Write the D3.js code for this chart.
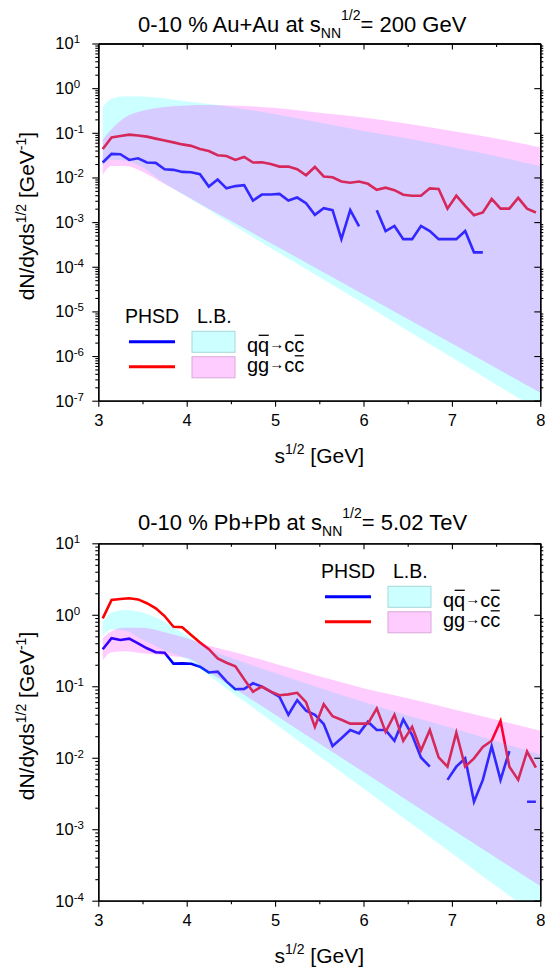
<!DOCTYPE html>
<html><head><meta charset="utf-8">
<script src="https://cdn.jsdelivr.net/npm/d3@7"></script>
<style>
body{margin:0;background:#fff;}
svg text{font-family:"Liberation Sans",Arial,sans-serif;fill:#000;}
</style></head><body>
<svg id="chart" width="545" height="969"></svg>
<script>
// ---------- data ----------
const sqrtS = [3.05,3.15,3.25,3.35,3.45,3.55,3.65,3.75,3.85,3.95,
               4.05,4.15,4.25,4.35,4.45,4.55,4.65,4.75,4.85,4.95,
               5.05,5.15,5.25,5.35,5.45,5.55,5.65,5.75,5.85,5.95,
               6.05,6.15,6.25,6.35,6.45,6.55,6.65,6.75,6.85,6.95,
               7.05,7.15,7.25,7.35,7.45,7.55,7.65,7.75,7.85,7.95];

// Au+Au 200 GeV : PHSD
const auBlue = [0.0216,0.0337,0.0331,0.0247,0.0269,0.0216,0.0212,0.0153,0.0148,0.0133,
                0.0131,0.0118,0.00625,0.0090,0.0057,0.0064,0.0067,0.00304,0.00414,0.00414,
                0.00429,0.00304,0.00355,0.00265,0.00145,0.00205,0.00185,0.000415,0.00185,0.00080,
                null,0.00185,0.00063,0.00082,0.000415,0.000415,0.00082,0.00063,0.000415,0.000415,
                0.000415,0.00063,0.00021,0.00021,null,null,null,null,null,null];
const auRed = [0.0435,0.079,0.085,0.091,0.087,0.082,0.074,0.067,0.061,0.055,
               0.051,0.0435,0.039,0.0314,0.0303,0.0247,0.0288,0.0216,0.0219,0.0201,
               0.0175,0.0175,0.0153,0.0112,0.0172,0.0105,0.0101,0.0081,0.0076,0.0081,
               0.0072,0.0053,0.0059,0.0052,0.0041,0.0039,0.0039,0.0057,0.0055,0.0020,
               0.0039,0.0023,0.00143,0.00164,0.0033,0.0020,0.0020,0.0035,0.0020,0.00164];

// Pb+Pb 5.02 TeV : PHSD
const pbBlue = [0.329,0.469,0.445,0.464,0.399,0.340,0.299,0.295,0.207,0.209,
                0.207,0.188,0.156,0.160,0.117,0.091,0.092,0.110,0.099,0.084,
                0.071,0.040,0.064,0.0455,0.040,0.0296,0.0146,0.0187,0.0244,0.0219,
                0.0319,0.0244,0.0244,0.0173,0.0344,0.0208,0.0101,0.0075,null,0.0049,
                0.0075,0.0098,0.00242,0.0049,0.0145,0.0049,0.0124,null,0.00242,0.00242];
const pbRed = [0.89,1.61,1.66,1.70,1.64,1.45,1.23,0.96,0.68,0.67,
               0.52,0.41,0.33,0.245,0.213,0.19,0.125,0.084,0.099,0.084,
               0.075,0.077,0.081,0.060,0.027,0.056,0.038,0.034,0.030,0.030,
               0.030,0.049,0.023,0.040,0.0173,0.027,0.0126,0.0244,0.0101,0.0075,
               0.0224,0.0075,0.0098,0.0142,0.0173,0.0327,0.0075,0.0049,0.0122,0.0073];

// L.B. bands
const bandS = [3.05,3.15,3.3,3.5,3.75,4.0,4.25,4.5,5.0,5.5,6.0,6.5,7.0,7.5,8.0];
const auQqUp = [0.38,0.58,0.66,0.65,0.59,0.50,0.44,0.38,0.26,0.17,0.11,0.075,0.048,0.030,0.018];
const auQqLo = [0.019,0.025,0.024,0.017,0.0074,3.7e-3,1.9e-3,9.3e-4,2.3e-4,5.9e-5,1.5e-5,3.7e-6,9.3e-7,2.3e-7,5.9e-8];
const auGgUp = [0.07,0.12,0.22,0.31,0.38,0.41,0.42,0.41,0.36,0.28,0.22,0.16,0.11,0.075,0.047];
const auGgLo = [0.0114,0.018,0.018,0.0135,0.0071,3.8e-3,2.0e-3,1.07e-3,3.0e-4,8.5e-5,2.4e-5,6.8e-6,1.9e-6,5.4e-7,1.5e-7];

const pbQqUp = [0.80,1.07,1.17,1.08,0.80,0.51,0.33,0.25,0.153,0.095,0.060,0.039,0.026,0.017,0.0111];
const pbQqLo = [0.50,0.62,0.60,0.45,0.32,0.24,0.142,0.084,0.030,0.0105,3.7e-3,1.3e-3,4.6e-4,1.6e-4,5.7e-5];
const pbGgUp = [0.47,0.59,0.66,0.66,0.57,0.47,0.37,0.31,0.207,0.138,0.094,0.068,0.048,0.034,0.0238];
const pbGgLo = [0.23,0.30,0.31,0.29,0.27,0.25,0.158,0.10,0.040,0.0158,6.3e-3,2.5e-3,1.0e-3,4.0e-4,1.6e-4];

// ticks
const xTicks = [3,4,5,6,7,8];
const xMinor = [3.5,4.5,5.5,6.5,7.5];
const auYExp = [1,0,-1,-2,-3,-4,-5,-6,-7];
const pbYExp = [1,0,-1,-2,-3,-4];

// ---------- drawing ----------
const svg = d3.select("#chart");
const x = d3.scaleLinear().domain([3,8]).range([98.3,540.3]);

function styleAxis(sel){
  sel.attr("font-size",null).attr("font-family",null);
  sel.select(".domain").attr("stroke","#000").attr("stroke-width",1.3);
  sel.selectAll(".tick line").attr("stroke","#000").attr("stroke-width",1.1);
}

// text with overbars on selected character indices
function barText(parent, px, py, parts, barIdx){
  const t = parent.append("text").attr("x",px).attr("y",py).attr("font-size",20);
  parts.forEach(p=>{
    const s = t.append("tspan").text(p.s);
    if(p.small){ s.attr("font-size",15).attr("dy",-3); }
    if(p.back){ s.attr("dy",3); }
  });
  const node = t.node();
  barIdx.forEach(i=>{
    const a = node.getStartPositionOfChar(i).x, b = node.getEndPositionOfChar(i).x;
    parent.append("line").attr("x1",a+0.5).attr("x2",b-0.5)
      .attr("y1",py-16.5).attr("y2",py-16.5).attr("stroke","#000").attr("stroke-width",1.3);
  });
}

function drawPanel(cfg){
  const y = d3.scaleLog().domain([Math.pow(10,d3.min(cfg.yExp)),Math.pow(10,d3.max(cfg.yExp))]).range([cfg.yBot,cfg.yTop]);
  const g = svg.append("g");
  const clipId = cfg.id+"-clip";
  svg.append("clipPath").attr("id",clipId).append("rect")
    .attr("x",x(3)).attr("y",cfg.yTop).attr("width",x(8)-x(3)).attr("height",cfg.yBot-cfg.yTop);
  const plot = g.append("g").attr("clip-path",`url(#${clipId})`);

  const line = d3.line().defined(d=>d[1]!=null).x(d=>x(d[0])).y(d=>y(d[1]));
  plot.append("path").datum(d3.zip(sqrtS,cfg.blue)).attr("d",line)
    .attr("fill","none").attr("stroke","#0000ff").attr("stroke-width",2.6);
  plot.append("path").datum(d3.zip(sqrtS,cfg.red)).attr("d",line)
    .attr("fill","none").attr("stroke","#ff0000").attr("stroke-width",2.6);

  const area = d3.area().x(d=>x(d[0])).y0(d=>y(d[1])).y1(d=>y(d[2])).curve(d3.curveMonotoneX);
  plot.append("path").datum(d3.zip(bandS,cfg.qqLo,cfg.qqUp)).attr("d",area)
    .attr("fill","rgb(0,255,255)").attr("fill-opacity",0.2);
  plot.append("path").datum(d3.zip(bandS,cfg.ggLo,cfg.ggUp)).attr("d",area)
    .attr("fill","rgb(255,0,255)").attr("fill-opacity",0.2);

  // axes
  const majors = cfg.yExp.map(e=>Math.pow(10,e));
  const minors = [];
  cfg.yExp.forEach(e=>{ if(e<d3.max(cfg.yExp)) for(let k=2;k<=9;k++) minors.push(k*Math.pow(10,e)); });

  g.append("g").attr("transform",`translate(${x(3)},0)`)
    .call(d3.axisLeft(y).tickValues(minors).tickSize(3).tickSizeOuter(0).tickFormat(()=>"")).call(styleAxis);
  g.append("g").attr("transform",`translate(${x(3)},0)`)
    .call(d3.axisLeft(y).tickValues(majors).tickSize(6).tickSizeOuter(0).tickFormat(()=>"")).call(styleAxis);
  g.append("g").attr("transform",`translate(${x(8)},0)`)
    .call(d3.axisRight(y).tickValues(minors).tickSize(3).tickSizeOuter(0).tickFormat(()=>"")).call(styleAxis);
  g.append("g").attr("transform",`translate(${x(8)},0)`)
    .call(d3.axisLeft(y).tickValues(majors).tickSize(6).tickSizeOuter(0).tickFormat(()=>"")).call(styleAxis);

  g.append("g").attr("transform",`translate(0,${cfg.yBot})`)
    .call(d3.axisBottom(x).tickValues(xMinor).tickSize(3.5).tickSizeOuter(0).tickFormat(()=>"")).call(styleAxis);
  const xb = g.append("g").attr("transform",`translate(0,${cfg.yBot})`)
    .call(d3.axisBottom(x).tickValues(xTicks).tickSize(6).tickPadding(8).tickSizeOuter(0).tickFormat(d3.format("d"))).call(styleAxis);
  xb.selectAll(".tick text").attr("font-size",16.5).attr("fill","#000");
  g.append("g").attr("transform",`translate(0,${cfg.yTop})`)
    .call(d3.axisBottom(x).tickValues(xMinor).tickSize(3.5).tickSizeOuter(0).tickFormat(()=>"")).call(styleAxis);
  g.append("g").attr("transform",`translate(0,${cfg.yTop})`)
    .call(d3.axisBottom(x).tickValues(xTicks).tickSize(6).tickSizeOuter(0).tickFormat(()=>"")).call(styleAxis);

  // y tick labels 10^n
  const lab = g.append("g").selectAll("text").data(cfg.yExp).join("text")
    .attr("x",x(3)-43).attr("y",d=>y(Math.pow(10,d))).attr("dy","0.36em").attr("font-size",16.5);
  lab.append("tspan").text("10");
  lab.append("tspan").attr("dy",-6).attr("font-size",11.5).text(d=>d<0?"-"+(-d):String(d));

  // title
  const t = g.append("text").attr("x",138).attr("y",cfg.titleY).attr("font-size",22);
  t.append("tspan").text(cfg.title[0]);
  t.append("tspan").attr("font-size",14).attr("dy",6).text("NN");
  t.append("tspan").attr("font-size",14).attr("dy",-18).text("1/2");
  t.append("tspan").attr("dy",12).text(cfg.title[1]);

  // axis titles
  const cy = (cfg.yTop+cfg.yBot)/2 - 6;
  const yl = g.append("text").attr("transform",`translate(34,${cy}) rotate(-90)`)
    .attr("text-anchor","middle").attr("font-size",21);
  yl.append("tspan").text("dN/dyds");
  yl.append("tspan").attr("font-size",14).attr("dy",-8).text("1/2");
  yl.append("tspan").attr("dy",8).text(" [GeV");
  yl.append("tspan").attr("font-size",14).attr("dy",-8).text("-1");
  yl.append("tspan").attr("dy",8).text("]");

  const xl = g.append("text").attr("x",(x(3)+x(8))/2).attr("y",cfg.yBot+62)
    .attr("text-anchor","middle").attr("font-size",21);
  xl.append("tspan").text("s");
  xl.append("tspan").attr("font-size",14).attr("dy",-9).text("1/2");
  xl.append("tspan").attr("dy",9).text(" [GeV]");

  // legend
  const L = cfg.legend;
  const lg = g.append("g");
  lg.append("text").attr("x",L.x).attr("y",L.y).attr("font-size",19.5).text("PHSD");
  lg.append("text").attr("x",L.x+72).attr("y",L.y).attr("font-size",19.5).text("L.B.");
  lg.append("line").attr("x1",L.x+4).attr("x2",L.x+50).attr("y1",L.y+18.5).attr("y2",L.y+18.5)
    .attr("stroke","#0000ff").attr("stroke-width",3);
  lg.append("line").attr("x1",L.x+4).attr("x2",L.x+50).attr("y1",L.y+43.5).attr("y2",L.y+43.5)
    .attr("stroke","#ff0000").attr("stroke-width",3);
  lg.append("rect").attr("x",L.x+67).attr("y",L.y+8).attr("width",43).attr("height",21)
    .attr("fill","rgb(204,255,255)").attr("stroke","#a6d8d8").attr("stroke-width",1);
  lg.append("rect").attr("x",L.x+67).attr("y",L.y+33.5).attr("width",43).attr("height",21)
    .attr("fill","rgb(255,204,255)").attr("stroke","#d8a8d8").attr("stroke-width",1);
  barText(lg, L.x+122, L.y+28.5, [{s:"qq"},{s:"\u2192",small:true},{s:"cc",back:true}], [1,4]);
  barText(lg, L.x+122, L.y+49, [{s:"gg"},{s:"\u2192",small:true},{s:"cc",back:true}], [4]);
}

drawPanel({id:"au", yTop:43.5, yBot:400.7, yExp:auYExp, blue:auBlue, red:auRed,
  qqUp:auQqUp, qqLo:auQqLo, ggUp:auGgUp, ggLo:auGgLo,
  title:["0-10 % Au+Au at s","= 200 GeV"], titleY:31.7,
  legend:{x:125, y:323.3}});
drawPanel({id:"pb", yTop:543.3, yBot:900.7, yExp:pbYExp, blue:pbBlue, red:pbRed,
  qqUp:pbQqUp, qqLo:pbQqLo, ggUp:pbGgUp, ggLo:pbGgLo,
  title:["0-10 % Pb+Pb at s","= 5.02 TeV"], titleY:530,
  legend:{x:321, y:578.3}});
</script>
</body></html>
